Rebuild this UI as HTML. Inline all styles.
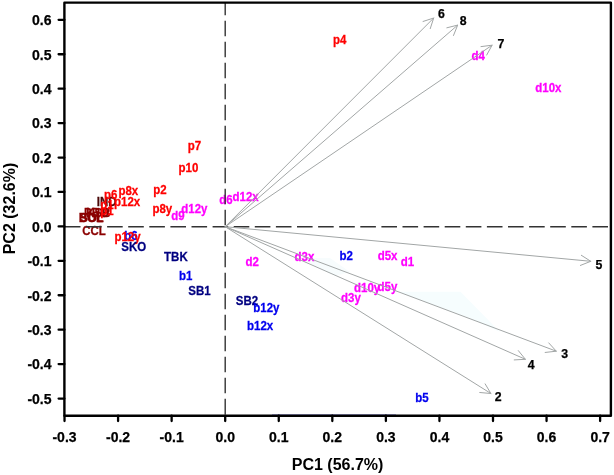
<!DOCTYPE html>
<html><head><meta charset="utf-8"><style>
html,body{margin:0;padding:0;background:#fff;}
body{width:614px;height:475px;position:relative;overflow:hidden;font-family:"Liberation Sans",sans-serif;}
</style></head><body>
<svg width="614" height="475" viewBox="0 0 614 475" style="position:absolute;left:0;top:0;will-change:transform">
<polygon points="398,291.8 460.5,291.8 500,332 470,318" fill="#f6fdfe"/>
<polygon points="300,258 330,258 350,272 335,276" fill="#f7fcfd"/>
<line x1="272" y1="414.4" x2="396" y2="414.4" stroke="#5050c8" stroke-width="0.7" opacity="0.7"/>
<g font-family="Liberation Sans, sans-serif" font-weight="bold" font-size="11.5">
<text transform="translate(78.83,221.50) scale(1,1.07)" fill="#8b0000" stroke="#8b0000" stroke-width="0.25">BOL</text>
<text transform="translate(80.27,221.50) scale(1,1.07)" fill="#8b0000" stroke="#8b0000" stroke-width="0.25">SOL</text>
<text transform="translate(84.03,216.70) scale(1,1.07)" fill="#8b0000" stroke="#8b0000" stroke-width="0.25">PRO</text>
<text transform="translate(86.23,216.70) scale(1,1.07)" fill="#8b0000" stroke="#8b0000" stroke-width="0.25">KSB</text>
<text transform="translate(96.73,205.80) scale(1,1.07)" fill="#4a0808" stroke="#4a0808" stroke-width="0.25">IND</text>
<text transform="translate(82.13,234.50) scale(1,1.07)" fill="#8b0000" stroke="#8b0000" stroke-width="0.25">CCL</text>
<text transform="translate(100.24,209.40) scale(1,1.07)" fill="#ff0000" stroke="#ff0000" stroke-width="0.25">p1</text>
<text transform="translate(100.24,215.40) scale(1,1.07)" fill="#ff0000" stroke="#ff0000" stroke-width="0.25">p1</text>
<text transform="translate(104.04,198.60) scale(1,1.07)" fill="#ff0000" stroke="#ff0000" stroke-width="0.25">p6</text>
<text transform="translate(114.04,206.40) scale(1,1.07)" fill="#ff0000" stroke="#ff0000" stroke-width="0.25">p12x</text>
<text transform="translate(118.44,194.90) scale(1,1.07)" fill="#ff0000" stroke="#ff0000" stroke-width="0.25">p8x</text>
<text transform="translate(153.34,193.80) scale(1,1.07)" fill="#ff0000" stroke="#ff0000" stroke-width="0.25">p2</text>
<text transform="translate(152.44,213.20) scale(1,1.07)" fill="#ff0000" stroke="#ff0000" stroke-width="0.25">p8y</text>
<text transform="translate(178.54,171.60) scale(1,1.07)" fill="#ff0000" stroke="#ff0000" stroke-width="0.25">p10</text>
<text transform="translate(187.64,149.90) scale(1,1.07)" fill="#ff0000" stroke="#ff0000" stroke-width="0.25">p7</text>
<text transform="translate(333.04,43.70) scale(1,1.07)" fill="#ff0000" stroke="#ff0000" stroke-width="0.25">p4</text>
<text transform="translate(124.24,240.10) scale(1,1.07)" fill="#0000ee" stroke="#0000ee" stroke-width="0.25">b6</text>
<text transform="translate(114.44,240.50) scale(1,1.07)" fill="#ff0000" stroke="#ff0000" stroke-width="0.25">p12y</text>
<text transform="translate(121.37,250.70) scale(1,1.07)" fill="#000080" stroke="#000080" stroke-width="0.25">SKO</text>
<text transform="translate(164.07,260.70) scale(1,1.07)" fill="#000080" stroke="#000080" stroke-width="0.25">TBK</text>
<text transform="translate(179.04,279.70) scale(1,1.07)" fill="#0000ee" stroke="#0000ee" stroke-width="0.25">b1</text>
<text transform="translate(188.27,295.20) scale(1,1.07)" fill="#000080" stroke="#000080" stroke-width="0.25">SB1</text>
<text transform="translate(235.77,304.60) scale(1,1.07)" fill="#000080" stroke="#000080" stroke-width="0.25">SB2</text>
<text transform="translate(253.24,311.90) scale(1,1.07)" fill="#0000ee" stroke="#0000ee" stroke-width="0.25">b12y</text>
<text transform="translate(247.04,329.50) scale(1,1.07)" fill="#0000ee" stroke="#0000ee" stroke-width="0.25">b12x</text>
<text transform="translate(339.54,259.80) scale(1,1.07)" fill="#0000ee" stroke="#0000ee" stroke-width="0.25">b2</text>
<text transform="translate(415.34,401.90) scale(1,1.07)" fill="#0000ee" stroke="#0000ee" stroke-width="0.25">b5</text>
<text transform="translate(171.33,220.00) scale(1,1.07)" fill="#ff00ff" stroke="#ff00ff" stroke-width="0.25">d9</text>
<text transform="translate(181.23,213.30) scale(1,1.07)" fill="#ff00ff" stroke="#ff00ff" stroke-width="0.25">d12y</text>
<text transform="translate(219.33,204.00) scale(1,1.07)" fill="#ff00ff" stroke="#ff00ff" stroke-width="0.25">d6</text>
<text transform="translate(232.53,200.90) scale(1,1.07)" fill="#ff00ff" stroke="#ff00ff" stroke-width="0.25">d12x</text>
<text transform="translate(245.43,265.60) scale(1,1.07)" fill="#ff00ff" stroke="#ff00ff" stroke-width="0.25">d2</text>
<text transform="translate(294.53,261.30) scale(1,1.07)" fill="#ff00ff" stroke="#ff00ff" stroke-width="0.25">d3x</text>
<text transform="translate(377.63,259.80) scale(1,1.07)" fill="#ff00ff" stroke="#ff00ff" stroke-width="0.25">d5x</text>
<text transform="translate(400.63,265.70) scale(1,1.07)" fill="#ff00ff" stroke="#ff00ff" stroke-width="0.25">d1</text>
<text transform="translate(354.03,292.20) scale(1,1.07)" fill="#ff00ff" stroke="#ff00ff" stroke-width="0.25">d10y</text>
<text transform="translate(377.53,290.90) scale(1,1.07)" fill="#ff00ff" stroke="#ff00ff" stroke-width="0.25">d5y</text>
<text transform="translate(341.03,302.40) scale(1,1.07)" fill="#ff00ff" stroke="#ff00ff" stroke-width="0.25">d3y</text>
<text transform="translate(471.43,59.50) scale(1,1.07)" fill="#ff00ff" stroke="#ff00ff" stroke-width="0.25">d4</text>
<text transform="translate(535.23,91.60) scale(1,1.07)" fill="#ff00ff" stroke="#ff00ff" stroke-width="0.25">d10x</text>
</g>
<line x1="64.9" y1="226.7" x2="610.9" y2="226.7" stroke="#333" stroke-width="1.4" stroke-dasharray="15.6 5.5"/>
<line x1="225.2" y1="2.65" x2="225.2" y2="415.7" stroke="#333" stroke-width="1.4" stroke-dasharray="15.4 5.6" stroke-dashoffset="2.85"/>
<g stroke="#a2a6a6" stroke-width="1.0" fill="none" stroke-linecap="round">
<path d="M225.2,226.7L433.7,18.0M430.24,28.65L433.7,18.0L423.05,21.47"/>
<path d="M225.2,226.7L457.7,25.1M453.49,35.48L457.7,25.1L446.83,27.80"/>
<path d="M225.2,226.7L492.1,45.2M486.71,55.02L492.1,45.2L480.99,46.61"/>
<path d="M225.2,226.7L590.8,261.3M580.39,265.42L590.8,261.3L581.34,255.30"/>
<path d="M225.2,226.7L556.3,351.2M545.17,352.45L556.3,351.2L548.75,342.93"/>
<path d="M225.2,226.7L525.4,359.3M514.22,359.92L525.4,359.3L518.33,350.62"/>
<path d="M225.2,226.7L490.9,393.5M479.74,392.50L490.9,393.5L485.15,383.89"/>
</g>
<g font-family="Liberation Sans, sans-serif" font-weight="bold" font-size="12.3" fill="#000" stroke="#000" stroke-width="0.25">
<text x="438.05" y="18.00">6</text>
<text x="459.81" y="24.90">8</text>
<text x="497.57" y="48.10">7</text>
<text x="595.52" y="268.60">5</text>
<text x="561.22" y="357.60">3</text>
<text x="527.81" y="368.80">4</text>
<text x="494.77" y="400.90">2</text>
</g>
<path d="M64.4,2.65H610.9V415.7H64.4Z" fill="none" stroke="#000" stroke-width="2.4" stroke-linejoin="round"/>
<path d="M58.60000000000001,398.55H64.4M58.60000000000001,364.12H64.4M58.60000000000001,329.69H64.4M58.60000000000001,295.26H64.4M58.60000000000001,260.83H64.4M58.60000000000001,226.40H64.4M58.60000000000001,191.97H64.4M58.60000000000001,157.54H64.4M58.60000000000001,123.11H64.4M58.60000000000001,88.68H64.4M58.60000000000001,54.25H64.4M58.60000000000001,19.82H64.4M64.52,415.7V421.09999999999997M118.08,415.7V421.09999999999997M171.64,415.7V421.09999999999997M225.20,415.7V421.09999999999997M278.76,415.7V421.09999999999997M332.32,415.7V421.09999999999997M385.88,415.7V421.09999999999997M439.44,415.7V421.09999999999997M493.00,415.7V421.09999999999997M546.56,415.7V421.09999999999997M600.12,415.7V421.09999999999997" stroke="#000" stroke-width="2.3" stroke-linecap="round" fill="none"/>
<g font-family="Liberation Sans, sans-serif" font-weight="bold" font-size="14" fill="#000" stroke="#000" stroke-width="0.25">
<text x="51.5" y="403.85" text-anchor="end">-0.5</text>
<text x="51.5" y="369.42" text-anchor="end">-0.4</text>
<text x="51.5" y="334.99" text-anchor="end">-0.3</text>
<text x="51.5" y="300.56" text-anchor="end">-0.2</text>
<text x="51.5" y="266.13" text-anchor="end">-0.1</text>
<text x="51.5" y="231.70" text-anchor="end">0.0</text>
<text x="51.5" y="197.27" text-anchor="end">0.1</text>
<text x="51.5" y="162.84" text-anchor="end">0.2</text>
<text x="51.5" y="128.41" text-anchor="end">0.3</text>
<text x="51.5" y="93.98" text-anchor="end">0.4</text>
<text x="51.5" y="59.55" text-anchor="end">0.5</text>
<text x="51.5" y="25.12" text-anchor="end">0.6</text>
<text x="64.52" y="441.6" text-anchor="middle">-0.3</text>
<text x="118.08" y="441.6" text-anchor="middle">-0.2</text>
<text x="171.64" y="441.6" text-anchor="middle">-0.1</text>
<text x="225.20" y="441.6" text-anchor="middle">0.0</text>
<text x="278.76" y="441.6" text-anchor="middle">0.1</text>
<text x="332.32" y="441.6" text-anchor="middle">0.2</text>
<text x="385.88" y="441.6" text-anchor="middle">0.3</text>
<text x="439.44" y="441.6" text-anchor="middle">0.4</text>
<text x="493.00" y="441.6" text-anchor="middle">0.5</text>
<text x="546.56" y="441.6" text-anchor="middle">0.6</text>
<text x="600.12" y="441.6" text-anchor="middle">0.7</text>
</g>
<text x="337.6" y="470" text-anchor="middle" font-family="Liberation Sans, sans-serif" font-weight="bold" font-size="16">PC1 (56.7%)</text>
<text transform="translate(14.5,208.5) rotate(-90)" x="0" y="0" text-anchor="middle" font-family="Liberation Sans, sans-serif" font-weight="bold" font-size="16">PC2 (32.6%)</text>
</svg>
</body></html>
